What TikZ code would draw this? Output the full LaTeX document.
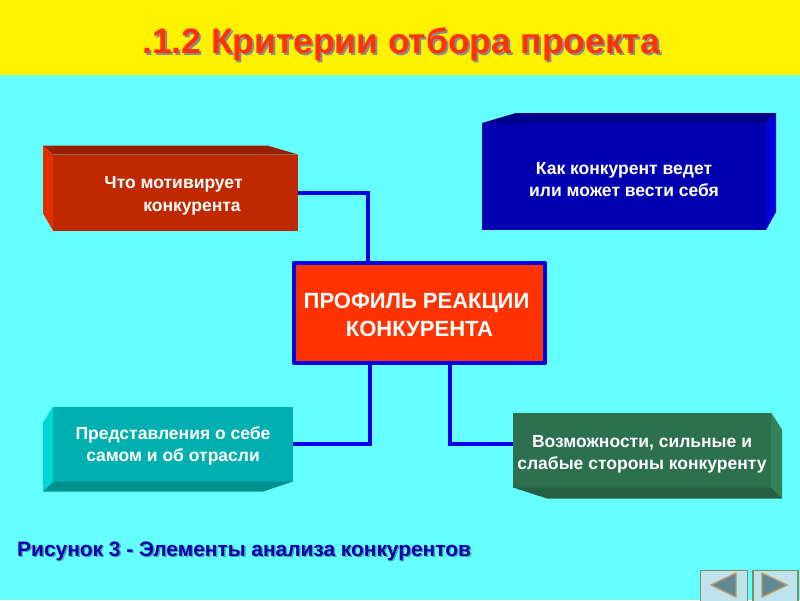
\documentclass[tikz,border=0pt]{standalone}
\usepackage{fontspec}
\setmainfont{Liberation Sans}
\usetikzlibrary{positioning}
\definecolor{skyback}{HTML}{66FFFF}
\definecolor{wireblue}{HTML}{0000E6}
\definecolor{hotred}{HTML}{FF3300}
\definecolor{navframe}{HTML}{7F8F60}
\definecolor{navtri}{HTML}{5F8794}
\definecolor{navedge}{HTML}{B89A68}
\definecolor{navice}{HTML}{BFE3EC}
\definecolor{redfront}{HTML}{C02800}
\definecolor{redtop}{HTML}{982000}
\definecolor{redside}{HTML}{E03000}
\definecolor{bluefront}{HTML}{0000B0}
\definecolor{bluetop}{HTML}{00008C}
\definecolor{blueside}{HTML}{0000D8}
\definecolor{tealfront}{HTML}{00B0B0}
\definecolor{tealside}{HTML}{00D8D8}
\definecolor{tealbase}{HTML}{009090}
\definecolor{greenfront}{HTML}{2C7050}
\definecolor{greenside}{HTML}{338059}
\definecolor{greenbase}{HTML}{265F45}
\newcommand{\topgap}[1]{\rule{0pt}{#1}}
\tikzset{
  facebox/.style={minimum width=#1,inner sep=0pt,outer sep=0pt,text=white,align=center,
    font=\fontsize{17.5}{22.5}\selectfont\bfseries},
  wire/.style={draw=wireblue,line width=4pt,line join=miter},
  navbox/.style={fill=navice,draw=navframe,line width=1.5pt,minimum height=31pt,inner sep=0pt},
  navtip/.style={fill=navtri,draw=navedge,line width=1.4pt,line join=round},
  titletext/.style={font=\fontsize{35.4}{40}\selectfont\bfseries},
  captext/.style={anchor=west,font=\fontsize{20.9}{25}\selectfont\bfseries}
}
\begin{document}
\begin{tikzpicture}[x=1pt,y=-1pt]
\useasboundingbox (0,0) rectangle (800,600);
\fill[skyback] (0,0) rectangle (800,600);
\fill[yellow] (0,0) rectangle (800,75);

% title

\node[titletext,text=black!45] (titleshade) at (403,46) {.1.2 Критерии отбора проекта};
\node[titletext,text=hotred,xshift=-2pt,yshift=2pt] (title) at (titleshade) {.1.2 Критерии отбора проекта};

% define nodes

\node[facebox=245pt,minimum height=76pt,fill=redfront] (motiv) at (175.5,192.5) {\topgap{19pt}Что мотивирует\hspace*{4pt}\\\hspace*{33pt}конкурента};
\node[facebox=284pt,minimum height=107pt,fill=bluefront,right=184pt of motiv,yshift=16pt] (vedet) {\topgap{18pt}Как конкурент ведет\\или может вести себя};
\node[facebox=240pt,minimum height=75pt,fill=tealfront,below=176pt of motiv,xshift=-2.5pt] (pred) {\topgap{17pt}Представления о себе\\самом и об отрасли};
\node[facebox=258pt,minimum height=75pt,fill=greenfront,right=220pt of pred,yshift=-6pt] (vozm) {\topgap{21pt}Возможности, сильные и\\слабые стороны конкуренту};
\node[minimum width=251pt,minimum height=100pt,inner sep=0pt,fill=hotred,draw=wireblue,line width=4pt,line join=round,
  text=white,align=center,font=\fontsize{22}{28}\selectfont\bfseries] (prof) at (419.5,313) {\topgap{19pt}ПРОФИЛЬ РЕАКЦИИ\hspace*{6pt}\\КОНКУРЕНТА};

% edges

\draw[wire] (motiv.east) -| ([xshift=-51.5pt]prof.north);
\draw[wire] (pred.east) -| ([xshift=-50pt]prof.south);
\draw[wire] ([xshift=30.5pt]prof.south) |- ([yshift=6.5pt]vozm.west);

% side faces

\fill[redtop] (motiv.north west) -- ++(-10,-9) -- ++(224,0) -- (motiv.north east) -- cycle;
\fill[redside] (motiv.north west) -- ++(-10,-9) -- ++(0,68) -- (motiv.south west) -- cycle;
\fill[bluetop] (vedet.north west) -- ++(34,-10) -- ++(260,0) -- (vedet.north east) -- cycle;
\fill[blueside] (vedet.north east) -- ++(10,-10) -- ++(0,99) -- (vedet.south east) -- cycle;
\fill[tealside] (pred.north west) -- ++(-10,16) -- ++(0,69) -- (pred.south west) -- cycle;
\fill[tealbase] (pred.south west) -- ++(-10,10) -- ++(220,0) -- (pred.south east) -- cycle;
\fill[greenside] (vozm.north east) -- ++(11,17) -- ++(0,69) -- (vozm.south east) -- cycle;
\fill[greenbase] (vozm.south west) -- ++(34,11) -- ++(235,0) -- (vozm.south east) -- cycle;

% caption

\node[captext,text=black!35!skyback] (capshade) at (15.2,552.5) {Рисунок 3 - Элементы анализа конкурентов};
\node[captext,text=bluefront] (caption) at (13.7,551) {Рисунок 3 - Элементы анализа конкурентов};

% buttons

\node[navbox,minimum width=47pt,anchor=north west] (navback) at (699.5,569.5) {};
\node[navbox,minimum width=45pt,right=4pt of navback] (navnext) {};
\draw[navtip] (711,585) -- (736,573) -- (736,597) -- cycle;
\draw[navtip] (787,585) -- (762,573) -- (762,597) -- cycle;

\end{tikzpicture}
\end{document}
